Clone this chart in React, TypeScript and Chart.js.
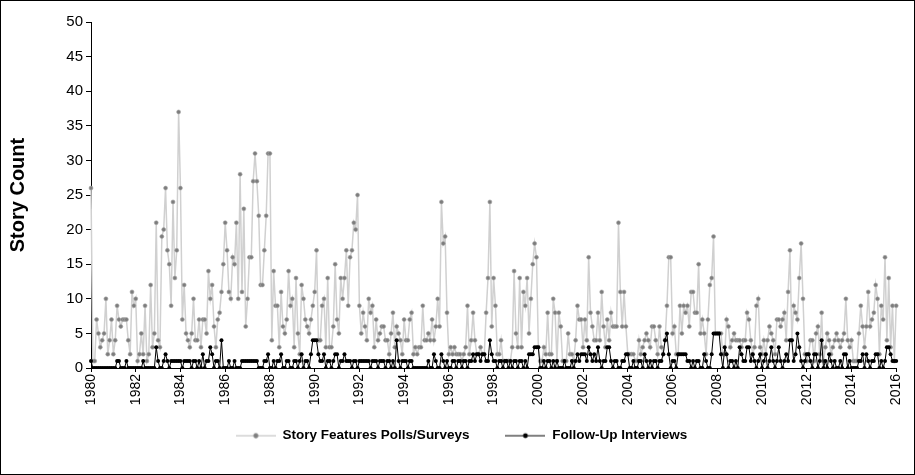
import { useEffect, useRef } from "react";
import { Chart, registerables } from "chart.js";

Chart.register(...registerables);

// ---------- data ----------
const startYear = 1980;
const yearTickEvery = 2;

// Story Features Polls/Surveys, monthly from Jan 1980
const pollsSurveys: number[] = [
  // 1980
  26, 1, 1, 7, 5, 3, 4, 5, 10, 2, 4, 7,
  // 1981
  2, 4, 9, 7, 6, 7, 7, 7, 4, 2, 11, 9,
  // 1982
  10, 1, 2, 5, 2, 9, 1, 2, 12, 3, 5, 21,
  // 1983
  4, 3, 19, 20, 26, 17, 15, 9, 24, 13, 17, 37,
  // 1984
  26, 7, 12, 5, 4, 3, 5, 10, 4, 4, 7, 3,
  // 1985
  7, 7, 5, 14, 10, 12, 6, 3, 7, 8, 11, 15,
  // 1986
  21, 17, 11, 10, 16, 15, 21, 10, 28, 11, 23, 6,
  // 1987
  10, 16, 16, 27, 31, 27, 22, 12, 12, 17, 22, 31,
  // 1988
  31, 4, 14, 9, 9, 3, 11, 6, 5, 7, 14, 9,
  // 1989
  10, 3, 13, 5, 2, 12, 10, 7, 6, 5, 7, 9,
  // 1990
  11, 17, 4, 4, 9, 10, 3, 13, 3, 3, 6, 15,
  // 1991
  7, 5, 13, 10, 13, 17, 9, 16, 17, 21, 20, 25,
  // 1992
  9, 5, 8, 6, 4, 10, 8, 9, 3, 7, 4, 5,
  // 1993
  6, 6, 4, 4, 2, 5, 8, 3, 6, 5, 4, 2,
  // 1994
  7, 4, 4, 7, 8, 2, 3, 2, 3, 3, 9, 4,
  // 1995
  4, 5, 4, 7, 4, 6, 10, 6, 24, 18, 19, 8,
  // 1996
  2, 3, 2, 3, 2, 2, 2, 1, 2, 3, 9, 2,
  // 1997
  4, 8, 4, 2, 2, 3, 2, 2, 8, 13, 24, 6,
  // 1998
  13, 9, 2, 2, 4, 1, 1, 1, 1, 1, 3, 14,
  // 1999
  5, 3, 13, 3, 11, 9, 13, 5, 10, 15, 18, 16,
  // 2000
  3, 1, 1, 3, 2, 8, 2, 2, 10, 8, 1, 8,
  // 2001
  6, 1, 1, 1, 5, 2, 2, 1, 4, 9, 7, 7,
  // 2002
  3, 7, 4, 16, 8, 6, 4, 4, 8, 4, 11, 6,
  // 2003
  3, 7, 4, 8, 6, 6, 6, 21, 11, 6, 11, 6,
  // 2004
  2, 2, 2, 2, 1, 1, 4, 2, 3, 4, 5, 4,
  // 2005
  3, 6, 6, 4, 2, 6, 3, 2, 4, 9, 16, 16,
  // 2006
  5, 6, 2, 2, 9, 5, 9, 8, 9, 6, 11, 11,
  // 2007
  8, 8, 15, 5, 7, 5, 2, 7, 12, 13, 19, 5,
  // 2008
  5, 5, 5, 2, 2, 7, 6, 3, 4, 5, 4, 4,
  // 2009
  4, 3, 4, 4, 8, 7, 4, 2, 3, 9, 10, 3,
  // 2010
  2, 4, 2, 4, 6, 5, 4, 2, 7, 7, 6, 7,
  // 2011
  8, 4, 11, 17, 4, 9, 8, 7, 13, 18, 10, 2,
  // 2012
  1, 2, 4, 4, 1, 5, 6, 2, 8, 1, 3, 5,
  // 2013
  4, 2, 3, 4, 5, 4, 3, 4, 5, 10, 4, 3,
  // 2014
  4, 1, 1, 1, 5, 9, 6, 3, 6, 11, 6, 7,
  // 2015
  8, 12, 10, 2, 9, 7, 16, 4, 13, 3, 9, 1,
  // 2016
  9,
];

// Follow-Up Interviews, monthly from Jan 1980
const followUpInterviews: number[] = [
  // 1980
  1, 0, 0, 0, 0, 0, 0, 0, 0, 0, 0, 0,
  // 1981
  0, 0, 1, 1, 0, 0, 0, 1, 0, 0, 0, 0,
  // 1982
  0, 0, 0, 0, 1, 0, 0, 0, 0, 0, 0, 3,
  // 1983
  1, 0, 0, 1, 2, 1, 0, 1, 1, 1, 1, 1,
  // 1984
  1, 0, 1, 1, 1, 1, 0, 1, 1, 0, 1, 0,
  // 1985
  2, 0, 1, 1, 3, 2, 0, 1, 1, 0, 4, 0,
  // 1986
  0, 0, 1, 0, 0, 1, 0, 0, 0, 1, 1, 1,
  // 1987
  1, 1, 1, 1, 1, 1, 0, 0, 0, 1, 1, 2,
  // 1988
  0, 0, 1, 0, 1, 1, 2, 0, 0, 1, 1, 0,
  // 1989
  0, 1, 1, 0, 1, 2, 0, 1, 1, 0, 2, 4,
  // 1990
  4, 4, 2, 1, 1, 2, 0, 1, 1, 0, 1, 2,
  // 1991
  2, 0, 1, 1, 2, 1, 1, 1, 0, 1, 1, 0,
  // 1992
  1, 1, 1, 1, 1, 1, 0, 1, 1, 1, 0, 1,
  // 1993
  1, 1, 0, 1, 1, 0, 1, 0, 4, 1, 0, 1,
  // 1994
  1, 1, 0, 1, 1, 0, 0, 0, 0, 0, 0, 0,
  // 1995
  0, 1, 0, 0, 2, 1, 0, 0, 2, 1, 0, 1,
  // 1996
  0, 0, 1, 1, 0, 1, 1, 0, 1, 1, 0, 1,
  // 1997
  1, 2, 1, 2, 2, 1, 2, 2, 1, 1, 4, 2,
  // 1998
  1, 1, 0, 1, 1, 0, 1, 1, 0, 1, 0, 1,
  // 1999
  1, 0, 1, 1, 0, 1, 0, 2, 2, 2, 3, 3,
  // 2000
  3, 0, 0, 1, 0, 1, 1, 0, 1, 0, 1, 0,
  // 2001
  0, 0, 1, 0, 0, 0, 1, 0, 1, 2, 1, 2,
  // 2002
  2, 2, 1, 3, 2, 1, 2, 1, 3, 1, 0, 1,
  // 2003
  1, 3, 3, 1, 0, 1, 1, 0, 0, 1, 1, 2,
  // 2004
  2, 0, 0, 1, 0, 0, 1, 1, 0, 2, 1, 0,
  // 2005
  1, 0, 1, 1, 0, 1, 1, 2, 4, 5, 2, 0,
  // 2006
  1, 1, 0, 2, 2, 2, 2, 2, 1, 1, 0, 1,
  // 2007
  0, 1, 1, 0, 0, 2, 1, 0, 0, 2, 5, 5,
  // 2008
  5, 5, 2, 0, 3, 2, 0, 1, 1, 0, 1, 0,
  // 2009
  3, 2, 1, 1, 3, 3, 1, 2, 1, 0, 1, 2,
  // 2010
  0, 1, 2, 0, 1, 3, 1, 0, 1, 3, 1, 0,
  // 2011
  1, 2, 1, 4, 4, 1, 2, 5, 3, 1, 0, 1,
  // 2012
  2, 2, 1, 0, 2, 2, 0, 1, 4, 0, 1, 0,
  // 2013
  2, 1, 0, 1, 0, 0, 1, 0, 2, 2, 0, 1,
  // 2014
  0, 0, 0, 0, 1, 1, 2, 0, 2, 1, 0, 1,
  // 2015
  1, 2, 2, 0, 1, 0, 1, 3, 3, 2, 1, 1,
  // 2016
  1,
];

const seriesNames = ["Story Features Polls/Surveys", "Follow-Up Interviews"];
const yAxisTitle = "Story Count";
const yMin = 0;
const yMax = 50;
const yStep = 5;

// month categories ("1980-01", ...)
const monthLabels: string[] = pollsSurveys.map((_, i) => {
  const y = startYear + Math.floor(i / 12);
  const m = (i % 12) + 1;
  return `${y}-${m < 10 ? "0" + m : m}`;
});

// ---------- styling ----------
const FONT = "'Liberation Sans', Arial, Helvetica, sans-serif";
const GREY_LINE = "#d0d0d0";
const GREY_DOT = "#7d7d7d";
const GREY_DOT_RING = "#a9a9a9";
const BLACK = "#000000";
const LEGEND_DX = 10;
const LEGEND_DY = -15;

function makeSample(lineColor: string, lineWidth: number, dot: string, ring?: string) {
  const c = document.createElement("canvas");
  c.width = 40;
  c.height = 8;
  const ctx = c.getContext("2d")!;
  ctx.strokeStyle = lineColor;
  ctx.lineWidth = lineWidth;
  ctx.beginPath();
  ctx.moveTo(0, 4);
  ctx.lineTo(40, 4);
  ctx.stroke();
  ctx.beginPath();
  ctx.arc(20, 4, 2.4, 0, Math.PI * 2);
  ctx.fillStyle = dot;
  ctx.fill();
  if (ring) {
    ctx.strokeStyle = ring;
    ctx.lineWidth = 0.7;
    ctx.stroke();
  }
  return c;
}

const framePlugin = {
  id: "frameAndLegendShift",
  afterLayout(chart: any) {
    const lg = chart.legend;
    if (lg) {
      lg.left += LEGEND_DX;
      lg.right += LEGEND_DX;
      lg.top += LEGEND_DY;
      lg.bottom += LEGEND_DY;
    }
  },
  afterDraw(chart: any) {
    const ctx = chart.ctx;
    ctx.save();
    ctx.strokeStyle = "#000";
    ctx.lineWidth = 1;
    ctx.strokeRect(0.5, 0.5, chart.width - 1, chart.height - 1);
    ctx.restore();
  },
};

export default function App() {
  const canvasRef = useRef<HTMLCanvasElement | null>(null);

  useEffect(() => {
    document.body.style.margin = "0";
    const canvas = canvasRef.current;
    if (!canvas) return;

    const greySample = makeSample(GREY_LINE, 1.5, GREY_DOT, GREY_DOT_RING);
    const blackSample = makeSample(BLACK, 1, BLACK);

    const chart = new Chart(canvas, {
      type: "line",
      data: {
        labels: monthLabels,
        datasets: [
          {
            label: seriesNames[0],
            data: pollsSurveys,
            borderColor: GREY_LINE,
            borderWidth: 1.5,
            pointRadius: 2,
            pointBackgroundColor: GREY_DOT,
            pointBorderColor: GREY_DOT_RING,
            pointBorderWidth: 0.6,
            tension: 0,
            order: 1,
          },
          {
            label: seriesNames[1],
            data: followUpInterviews,
            borderColor: BLACK,
            borderWidth: 1,
            pointRadius: 2,
            pointBackgroundColor: BLACK,
            pointBorderColor: BLACK,
            pointBorderWidth: 0,
            tension: 0,
            order: 0,
          },
        ],
      },
      options: {
        animation: false,
        responsive: false,
        maintainAspectRatio: false,
        layout: { padding: { left: 0, right: 12, top: 22, bottom: 7.5 } },
        plugins: {
          tooltip: { enabled: false },
          legend: {
            display: true,
            position: "bottom",
            align: "center",
            labels: {
              usePointStyle: true,
              pointStyleWidth: 40,
              padding: 36,
              color: "#000",
              font: { family: FONT, size: 13.5, weight: "bold" },
              generateLabels: () => [
                {
                  text: seriesNames[0],
                  pointStyle: greySample as any,
                  fillStyle: GREY_DOT,
                  strokeStyle: GREY_LINE,
                  lineWidth: 0,
                  hidden: false,
                  datasetIndex: 0,
                  fontColor: "#000",
                },
                {
                  text: seriesNames[1],
                  pointStyle: blackSample as any,
                  fillStyle: BLACK,
                  strokeStyle: BLACK,
                  lineWidth: 0,
                  hidden: false,
                  datasetIndex: 1,
                  fontColor: "#000",
                },
              ],
            },
          },
        },
        scales: {
          x: {
            type: "category",
            offset: false,
            grid: {
              display: true,
              drawOnChartArea: false,
              drawTicks: true,
              tickLength: 4,
              color: "#000",
            },
            border: { display: true, color: "#000", width: 1 },
            afterBuildTicks: (scale: any) => {
              scale.ticks = scale.ticks.filter((t: any) => t.value % (12 * yearTickEvery) === 0);
            },
            afterFit: (scale: any) => {
              scale.height = 40;
            },
            ticks: {
              autoSkip: false,
              maxRotation: 90,
              minRotation: 90,
              padding: 2,
              color: "#000",
              font: { family: FONT, size: 14 },
              callback: (value: any) => monthLabels[Number(value)].slice(0, 4),
            },
          },
          y: {
            min: yMin,
            max: yMax,
            grid: {
              display: true,
              drawOnChartArea: false,
              drawTicks: true,
              tickLength: 5,
              color: "#000",
            },
            border: { display: true, color: "#000", width: 1 },
            afterFit: (scale: any) => {
              scale.width = 91;
            },
            ticks: {
              stepSize: yStep,
              padding: 3,
              color: "#000",
              font: { family: FONT, size: 15 },
            },
            title: {
              display: true,
              text: yAxisTitle,
              color: "#000",
              font: { family: FONT, size: 20, weight: "bold" },
              padding: { top: 6, bottom: 0 },
            },
          },
        },
      },
      plugins: [framePlugin],
    });

    return () => chart.destroy();
  }, []);

  return (
    <div style={{ width: 915, height: 475 }}>
      <canvas ref={canvasRef} width={915} height={475} style={{ display: "block" }} />
    </div>
  );
}
